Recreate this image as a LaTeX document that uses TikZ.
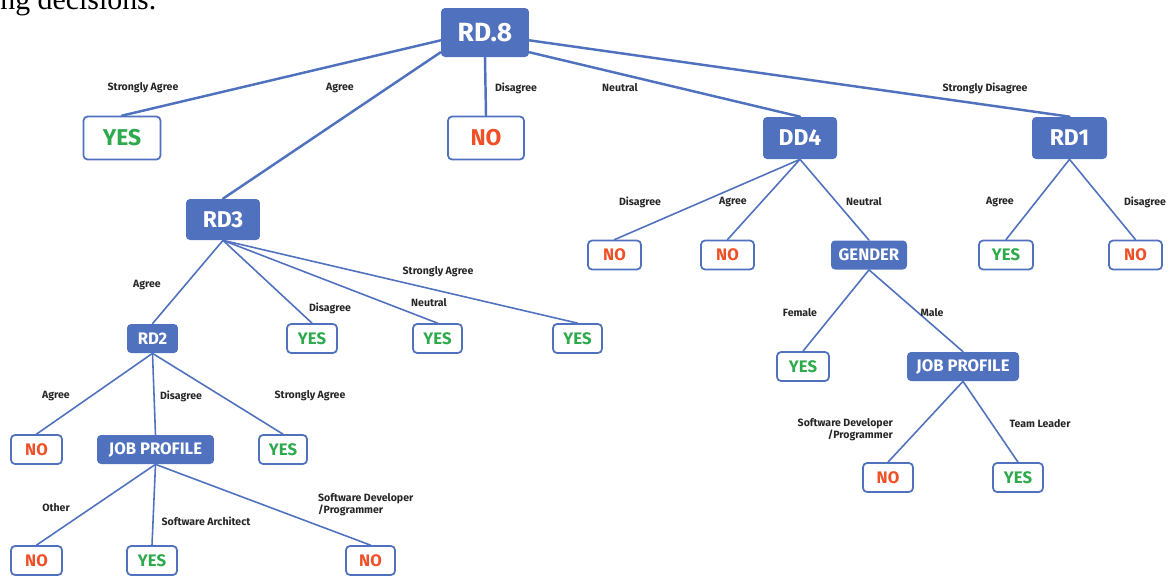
\documentclass[tikz,border=0pt]{standalone}
\usepackage{fontspec}
\setmainfont{Fira Sans}
\newfontfamily\bodyserif{Liberation Serif}
\definecolor{treeblue}{RGB}{79,113,190}
\definecolor{yesgreen}{RGB}{45,170,75}
\definecolor{nored}{RGB}{240,80,40}
\begin{document}
\begin{tikzpicture}[x=0.02cm, y=-0.02cm, line join=round, line cap=round,
    box/.style={rounded corners=2.3pt, inner sep=0pt},
    dec/.style={box, fill=treeblue, text=white},
    leaf/.style={box, draw=treeblue, fill=white, line width=1pt},
    yes/.style={leaf, text=yesgreen},
    no/.style={leaf, text=nored},
    big/.style={minimum height=0.86cm, font=\bfseries\fontsize{13}{13}\selectfont},
    small/.style={minimum height=0.58cm, font=\bfseries\fontsize{9.5}{9.5}\selectfont},
    lbl/.style={font=\bfseries\fontsize{6}{7}\selectfont, text=black!85},
    edge/.style={draw=treeblue, line width=0.9pt},
    trunk/.style={draw=treeblue, line width=1.4pt}]
    \useasboundingbox (0,0) rectangle (1170,576);
    \node[anchor=base west, font=\bodyserif\fontsize{17}{17}\selectfont, inner sep=0pt] (txt) at (0,9) {ng decisions.};
    % first level
    \node[dec, big, minimum width=1.76cm, minimum height=0.98cm, font=\bfseries\fontsize{15}{15}\selectfont] (rd8) at (485,32.5) {RD.8};
    \node[yes, big, minimum width=1.54cm] (yesA) at (122,138) {YES};
    \node[no, big, minimum width=1.52cm] (noA) at (486,138) {NO};
    \node[dec, big, minimum width=1.48cm, minimum height=0.84cm] (dd4) at (800,138) {DD4};
    \node[dec, big, minimum width=1.50cm, minimum height=0.84cm] (rd1) at (1069.5,138) {RD1};
    \node[dec, big, minimum width=1.48cm, minimum height=0.82cm] (rd3) at (223,219.5) {RD3};
    % under DD4 and RD1
    \node[no, small, minimum width=1.06cm] (noB) at (614.5,255) {NO};
    \node[no, small, minimum width=1.06cm] (noC) at (727.5,255) {NO};
    \node[dec, small, minimum width=1.52cm] (gender) at (869,255) {GENDER};
    \node[yes, small, minimum width=1.08cm] (yesD) at (1006,255) {YES};
    \node[no, small, minimum width=1.06cm] (noE) at (1135.5,255) {NO};
    % under RD3
    \node[dec, small, minimum width=1.02cm] (rd2) at (152.5,338.5) {RD2};
    \node[yes, small, minimum width=1.00cm] (yesF) at (312,338.5) {YES};
    \node[yes, small, minimum width=0.98cm] (yesG) at (437.5,338.5) {YES};
    \node[yes, small, minimum width=0.98cm] (yesH) at (577.5,338.5) {YES};
    % under GENDER
    \node[yes, small, minimum width=1.04cm] (yesI) at (803,366.5) {YES};
    \node[dec, small, minimum width=2.24cm] (jobR) at (963,366.5) {JOB PROFILE};
    \node[no, small, minimum width=1.00cm] (noL) at (888,477.5) {NO};
    \node[yes, small, minimum width=1.00cm] (yesM) at (1018,477.5) {YES};
    % under RD2
    \node[no, small, minimum width=1.02cm] (noJ) at (36.5,449.5) {NO};
    \node[dec, small, minimum width=2.34cm] (jobL) at (155.5,449.5) {JOB PROFILE};
    \node[yes, small, minimum width=0.96cm] (yesK) at (283,449.5) {YES};
    \node[no, small, minimum width=1.02cm] (noN) at (36.5,560.5) {NO};
    \node[yes, small, minimum width=1.00cm] (yesO) at (152,560.5) {YES};
    \node[no, small, minimum width=0.98cm] (noP) at (370.5,560.5) {NO};
    % connectors
    \draw[trunk] (rd8.190) -- (yesA.north);
    \draw[trunk] (rd8.204) -- (rd3.north);
    \draw[trunk] (rd8.south) -- (noA.north);
    \draw[trunk] (rd8.-24) -- (dd4.north);
    \draw[trunk] (rd8.-10) -- (rd1.north);
    \foreach \c in {noB,noC,gender} \draw[edge] (dd4.south) -- (\c.north);
    \foreach \c in {yesD,noE} \draw[edge] (rd1.south) -- (\c.north);
    \foreach \c in {rd2,yesF,yesG,yesH} \draw[edge] (rd3.south) -- (\c.north);
    \foreach \c in {yesI,jobR} \draw[edge] (gender.south) -- (\c.north);
    \foreach \c in {noL,yesM} \draw[edge] (jobR.south) -- (\c.north);
    \foreach \c in {noJ,jobL,yesK} \draw[edge] (rd2.south) -- (\c.north);
    \foreach \c in {noN,yesO,noP} \draw[edge] (jobL.south) -- (\c.north);
    % branch labels
    \node[lbl] (l1) at (143,88) {Strongly Agree};
    \node[lbl] (l2) at (340,88) {Agree};
    \node[lbl] (l3) at (516,88) {Disagree};
    \node[lbl] (l4) at (620,88) {Neutral};
    \node[lbl] (l5) at (985,88) {Strongly Disagree};
    \node[lbl] (l6) at (640,202) {Disagree};
    \node[lbl] (l7) at (733,202) {Agree};
    \node[lbl] (l8) at (864,202) {Neutral};
    \node[lbl] (l9) at (1000,202) {Agree};
    \node[lbl] (l10) at (1145,202) {Disagree};
    \node[lbl] (l11) at (147,285) {Agree};
    \node[lbl] (l12) at (330,308) {Disagree};
    \node[lbl] (l13) at (429,303) {Neutral};
    \node[lbl] (l14) at (438,272) {Strongly Agree};
    \node[lbl] (l15) at (56,396) {Agree};
    \node[lbl] (l16) at (181,396) {Disagree};
    \node[lbl] (l17) at (310,396) {Strongly Agree};
    \node[lbl] (l18) at (56,508) {Other};
    \node[lbl] (l19) at (206,521) {Software Architect};
    \node[lbl, anchor=west, align=left] (l20) at (312,505) {Software Developer\\/Programmer};
    \node[lbl] (l21) at (800,313) {Female};
    \node[lbl] (l22) at (932,313) {Male};
    \node[lbl, anchor=east, align=right] (l23) at (899,430) {Software Developer\\/Programmer};
    \node[lbl] (l24) at (1040,424) {Team Leader};
\end{tikzpicture}
\end{document}
